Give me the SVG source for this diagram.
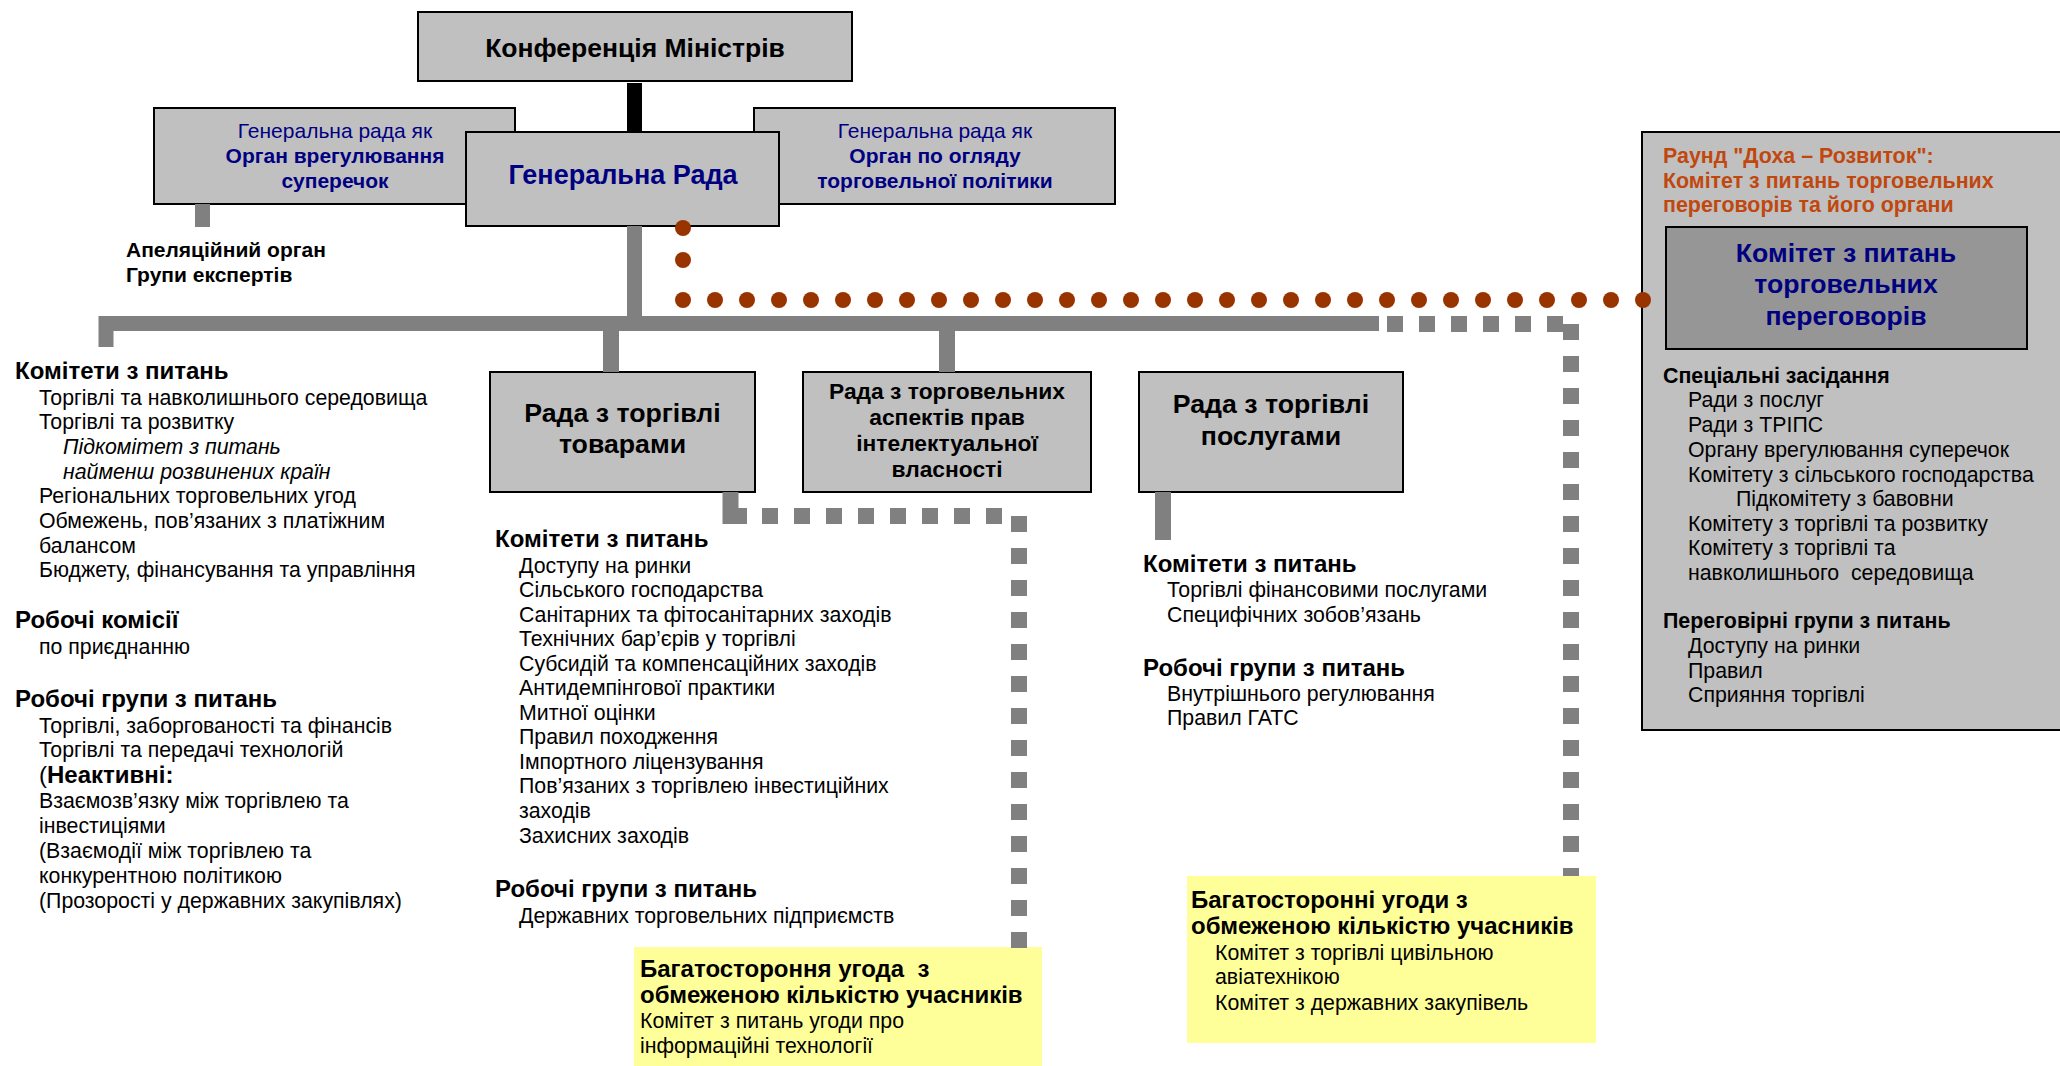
<svg xmlns="http://www.w3.org/2000/svg" width="2060" height="1066" viewBox="0 0 2060 1066">
<style>
text{font-family:"Liberation Sans",Arial,Helvetica,sans-serif;fill:#000}
.box{fill:#c0c0c0;stroke:#000;stroke-width:2}
.dark{fill:#969696;stroke:#000;stroke-width:2}
.yel{fill:#ffff99}
.conn{fill:#808080}
.dash{fill:none;stroke:#808080;stroke-width:16;stroke-dasharray:16 16}
.dot{fill:#993300}
.b{font-weight:bold}
.i{font-style:italic}
.blue{fill:#000080}
.org{fill:#c0480f}
.r{font-size:21.3px}
.h{font-size:24px;font-weight:bold}
.ph{font-size:21.4px;font-weight:bold}
.s21{font-size:21px}
.s23{font-size:22.8px}
.s26{font-size:26.7px}
.c{text-anchor:middle}
</style>
<rect width="2060" height="1066" fill="#fff"/>
<g id="nodes">
<g id="dsb">
<rect class="box" x="154" y="108" width="361" height="96"/>
<text class="blue s21 c" x="335" y="138">Генеральна рада як</text>
<text class="blue b s21 c" x="335" y="163">Орган врегулювання</text>
<text class="blue b s21 c" x="335" y="188">суперечок</text>
</g>
<g id="tprb">
<rect class="box" x="754" y="108" width="361" height="96"/>
<text class="blue s21 c" x="935" y="138">Генеральна рада як</text>
<text class="blue b s21 c" x="935" y="163">Орган по огляду</text>
<text class="blue b s21 c" x="935" y="188">торговельної політики</text>
</g>
<g id="conference">
<rect class="box" x="418" y="12" width="434" height="69"/>
<text class="b c" style="font-size:26.5px" x="635" y="57">Конференція Міністрів</text>
</g>
<g id="general-council">
<rect class="box" x="466" y="132" width="313" height="94"/>
<text class="blue b c" style="font-size:27px" x="623" y="184">Генеральна Рада</text>
</g>
<g id="appellate">
<text class="b s21" x="126" y="257">Апеляційний орган</text>
<text class="b s21" x="126" y="282">Групи експертів</text>
</g>
<g id="goods-council">
<rect class="box" x="490" y="372" width="265" height="120"/>
<text class="b s26 c" x="622.5" y="422">Рада з торгівлі</text>
<text class="b s26 c" x="622.5" y="453">товарами</text>
</g>
<g id="trips-council">
<rect class="box" x="803" y="372" width="288" height="120"/>
<text class="b s23 c" x="947" y="399">Рада з торговельних</text>
<text class="b s23 c" x="947" y="425">аспектів прав</text>
<text class="b s23 c" x="947" y="451">інтелектуальної</text>
<text class="b s23 c" x="947" y="477">власності</text>
</g>
<g id="services-council">
<rect class="box" x="1139" y="372" width="264" height="120"/>
<text class="b s26 c" x="1271" y="413">Рада з торгівлі</text>
<text class="b s26 c" x="1271" y="445">послугами</text>
</g>
<g id="gc-bodies">
<text class="h" x="15" y="379">Комітети з питань</text>
<text class="r" x="39" y="405">Торгівлі та навколишнього середовища</text>
<text class="r" x="39" y="429">Торгівлі та розвитку</text>
<text class="r i" x="63" y="454">Підкомітет з питань</text>
<text class="r i" x="63" y="479">найменш розвинених країн</text>
<text class="r" x="39" y="503">Регіональних торговельних угод</text>
<text class="r" x="39" y="528">Обмежень, пов’язаних з платіжним</text>
<text class="r" x="39" y="553">балансом</text>
<text class="r" x="39" y="577">Бюджету, фінансування та управління</text>
<text class="h" x="15" y="628">Робочі комісії</text>
<text class="r" x="39" y="654">по приєднанню</text>
<text class="h" x="15" y="707">Робочі групи з питань</text>
<text class="r" x="39" y="733">Торгівлі, заборгованості та фінансів</text>
<text class="r" x="39" y="757">Торгівлі та передачі технологій</text>
<text style="font-size:24px" x="39" y="783">(<tspan class="b">Неактивні:</tspan></text>
<text class="r" x="39" y="808">Взаємозв’язку між торгівлею та</text>
<text class="r" x="39" y="833">інвестиціями</text>
<text class="r" x="39" y="858">(Взаємодії між торгівлею та</text>
<text class="r" x="39" y="883">конкурентною політикою</text>
<text class="r" x="39" y="908">(Прозорості у державних закупівлях)</text>
</g>
<g id="goods-bodies">
<text class="h" x="495" y="547">Комітети з питань</text>
<text class="r" x="519" y="573">Доступу на ринки</text>
<text class="r" x="519" y="597">Сільського господарства</text>
<text class="r" x="519" y="622">Санітарних та фітосанітарних заходів</text>
<text class="r" x="519" y="646">Технічних бар’єрів у торгівлі</text>
<text class="r" x="519" y="671">Субсидій та компенсаційних заходів</text>
<text class="r" x="519" y="695">Антидемпінгової практики</text>
<text class="r" x="519" y="720">Митної оцінки</text>
<text class="r" x="519" y="744">Правил походження</text>
<text class="r" x="519" y="769">Імпортного ліцензування</text>
<text class="r" x="519" y="793">Пов’язаних з торгівлею інвестиційних</text>
<text class="r" x="519" y="818">заходів</text>
<text class="r" x="519" y="843">Захисних заходів</text>
<text class="h" x="495" y="897">Робочі групи з питань</text>
<text class="r" x="519" y="923">Державних торговельних підприємств</text>
</g>
<g id="services-bodies">
<text class="h" x="1143" y="572">Комітети з питань</text>
<text class="r" x="1167" y="597">Торгівлі фінансовими послугами</text>
<text class="r" x="1167" y="622">Специфічних зобов’язань</text>
<text class="h" x="1143" y="676">Робочі групи з питань</text>
<text class="r" x="1167" y="701">Внутрішнього регулювання</text>
<text class="r" x="1167" y="725">Правил ГАТС</text>
</g>
<g id="plurilateral-ita">
<rect class="yel" x="634" y="947" width="408" height="122"/>
<text class="h" x="640" y="977" xml:space="preserve">Багатостороння угода  з</text>
<text class="h" x="640" y="1003">обмеженою кількістю учасників</text>
<text class="r" x="640" y="1028">Комітет з питань угоди про</text>
<text class="r" x="640" y="1053">інформаційні технології</text>
</g>
<g id="plurilateral">
<rect class="yel" x="1187" y="876" width="409" height="167"/>
<text class="h" x="1191" y="908">Багатосторонні угоди з</text>
<text class="h" x="1191" y="934">обмеженою кількістю учасників</text>
<text class="r" x="1215" y="960">Комітет з торгівлі цивільною</text>
<text class="r" x="1215" y="984">авіатехнікою</text>
<text class="r" x="1215" y="1010">Комітет з державних закупівель</text>
</g>
<g id="doha">
<rect class="box" x="1642" y="132" width="430" height="598"/>
<text class="org ph" x="1663" y="163">Раунд "Доха – Розвиток":</text>
<text class="org ph" x="1663" y="188">Комітет з питань торговельних</text>
<text class="org ph" x="1663" y="212">переговорів та його органи</text>
<g id="tnc">
<rect class="dark" x="1666" y="227" width="361" height="122"/>
<text class="blue b c" style="font-size:26.6px" x="1846" y="262">Комітет з питань</text>
<text class="blue b c" style="font-size:26.6px" x="1846" y="293">торговельних</text>
<text class="blue b c" style="font-size:26.6px" x="1846" y="325">переговорів</text>
</g>
<text class="ph" x="1663" y="383">Спеціальні засідання</text>
<text class="r" x="1688" y="407">Ради з послуг</text>
<text class="r" x="1688" y="432">Ради з ТРІПС</text>
<text class="r" x="1688" y="457">Органу врегулювання суперечок</text>
<text class="r" x="1688" y="482">Комітету з сільського господарства</text>
<text class="r" x="1736" y="506">Підкомітету з бавовни</text>
<text class="r" x="1688" y="531">Комітету з торгівлі та розвитку</text>
<text class="r" x="1688" y="555">Комітету з торгівлі та</text>
<text class="r" x="1688" y="580" xml:space="preserve">навколишнього  середовища</text>
<text class="ph" x="1663" y="628">Переговірні групи з питань</text>
<text class="r" x="1688" y="653">Доступу на ринки</text>
<text class="r" x="1688" y="678">Правил</text>
<text class="r" x="1688" y="702">Сприяння торгівлі</text>
</g>
</g>
<g id="connectors">
<rect x="627" y="83" width="15" height="49" fill="#000"/>
<rect class="conn" x="627" y="226" width="15" height="90"/>
<rect class="conn" x="195" y="204" width="15" height="23"/>
<path d="M106,347 V323.5 H1379" fill="none" stroke="#808080" stroke-width="15"/>
<rect class="conn" x="603" y="331" width="16" height="41"/>
<rect class="conn" x="939" y="331" width="16" height="41"/>
<rect class="conn" x="1155" y="492" width="16" height="48"/>
<path d="M1387,324 H1563" class="dash"/>
<path d="M1571,324 V876" class="dash"/>
<path d="M730.5,492 V516 H747" fill="none" stroke="#808080" stroke-width="16"/>
<path d="M762,516 H1003" class="dash"/>
<path d="M1019,516 V948" class="dash"/>
<g id="dots">
<circle class="dot" cx="683" cy="228" r="8"/>
<circle class="dot" cx="683" cy="260" r="8"/>
<circle class="dot" cx="683" cy="300" r="8"/>
<circle class="dot" cx="715" cy="300" r="8"/>
<circle class="dot" cx="747" cy="300" r="8"/>
<circle class="dot" cx="779" cy="300" r="8"/>
<circle class="dot" cx="811" cy="300" r="8"/>
<circle class="dot" cx="843" cy="300" r="8"/>
<circle class="dot" cx="875" cy="300" r="8"/>
<circle class="dot" cx="907" cy="300" r="8"/>
<circle class="dot" cx="939" cy="300" r="8"/>
<circle class="dot" cx="971" cy="300" r="8"/>
<circle class="dot" cx="1003" cy="300" r="8"/>
<circle class="dot" cx="1035" cy="300" r="8"/>
<circle class="dot" cx="1067" cy="300" r="8"/>
<circle class="dot" cx="1099" cy="300" r="8"/>
<circle class="dot" cx="1131" cy="300" r="8"/>
<circle class="dot" cx="1163" cy="300" r="8"/>
<circle class="dot" cx="1195" cy="300" r="8"/>
<circle class="dot" cx="1227" cy="300" r="8"/>
<circle class="dot" cx="1259" cy="300" r="8"/>
<circle class="dot" cx="1291" cy="300" r="8"/>
<circle class="dot" cx="1323" cy="300" r="8"/>
<circle class="dot" cx="1355" cy="300" r="8"/>
<circle class="dot" cx="1387" cy="300" r="8"/>
<circle class="dot" cx="1419" cy="300" r="8"/>
<circle class="dot" cx="1451" cy="300" r="8"/>
<circle class="dot" cx="1483" cy="300" r="8"/>
<circle class="dot" cx="1515" cy="300" r="8"/>
<circle class="dot" cx="1547" cy="300" r="8"/>
<circle class="dot" cx="1579" cy="300" r="8"/>
<circle class="dot" cx="1611" cy="300" r="8"/>
<circle class="dot" cx="1643" cy="300" r="8"/>
</g>
</g>
</svg>
